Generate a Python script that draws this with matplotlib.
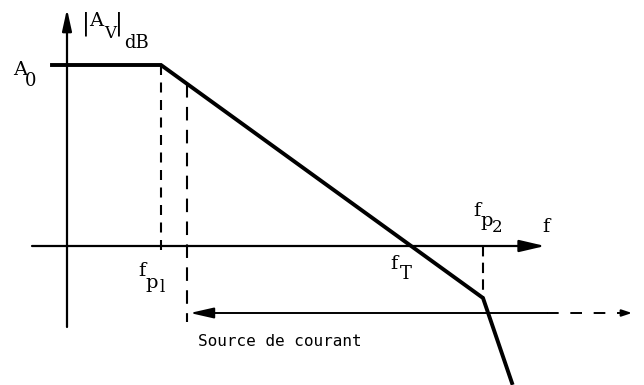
import matplotlib
matplotlib.use("Agg")
import matplotlib.pyplot as plt

# --- sketch values (x: log-frequency offset, y: gain in dB offset, origin at axis crossing) ---
A0 = 181                    # low-frequency gain
fp1 = 94                    # first pole
f_src = 120                 # limit of the current-source region
fT = 343                    # unity-gain frequency
fp2 = 416                   # second pole
gain_f = [-15, fp1, fp2, 445]
gain_db = [A0, A0, -52, -137]
src_db = -67                # level of the "Source de courant" arrow
src_end = 480               # end of the solid part of the arrow
src_dash_end = 565          # end of the dashed extension

serif = "DejaVu Serif"

fig = plt.figure(figsize=(6.44, 3.85), dpi=100)
ax = fig.add_axes([0, 0, 1, 1])
ax.set_xlim(-67, 577)
ax.set_ylim(-139, 246)
ax.axis("off")

# axes with arrow heads
ax.annotate("", xy=(0, 237), xytext=(0, -81),
            arrowprops=dict(arrowstyle="-|>,head_length=1.0,head_width=0.22",
                            lw=1.6, color="k", mutation_scale=13, shrinkA=0, shrinkB=0))
ax.annotate("", xy=(478, 0), xytext=(-35, 0),
            arrowprops=dict(arrowstyle="-|>,head_length=1.2,head_width=0.28",
                            lw=1.6, color="k", mutation_scale=13, shrinkA=0, shrinkB=0))

# asymptotic gain curve
ax.plot(gain_f, gain_db, color="k", lw=2.8, solid_joinstyle="miter")

# dashed construction lines
ax.plot([fp1, fp1], [A0, -6], color="k", lw=1.5, dashes=(4.8, 3.6))
slope = (gain_db[2] - gain_db[1]) / (fp2 - fp1)
ax.plot([f_src, f_src], [A0 + slope * (f_src - fp1), src_db - 9], color="k", lw=1.5,
        dashes=(6.5, 4.5))
ax.plot([fp2, fp2], [0, gain_db[2]], color="k", lw=1.5, dashes=(5, 3))

# current-source arrow
ax.annotate("", xy=(f_src + 3, src_db), xytext=(src_end, src_db),
            arrowprops=dict(arrowstyle="-|>,head_length=1.1,head_width=0.25",
                            lw=1.4, color="k", mutation_scale=13, shrinkA=0, shrinkB=0))
ax.plot([src_end, src_dash_end - 8], [src_db, src_db], color="k", lw=1.4, dashes=(6, 6))
ax.annotate("", xy=(src_dash_end, src_db), xytext=(src_dash_end - 8, src_db),
            arrowprops=dict(arrowstyle="-|>,head_length=0.6,head_width=0.2",
                            lw=1.4, color="k", mutation_scale=10, shrinkA=0, shrinkB=0))

# labels (typewriter style)
def lab(x, y, s, size=14):
    ax.text(x - 67, 246 - y, s, family=serif, fontsize=size, ha="center", va="center",
            color="k")

lab(86, 24, "|", 17)
lab(96, 21, "A")
lab(110, 34, "V", 12)
lab(119, 24, "|", 17)
lab(137, 43, "dB", 13)

lab(20, 70, "A")
lab(31, 81, "0", 13)

lab(142, 271, "f")
lab(152, 283, "p")
lab(162, 288, "l", 12)

lab(394, 264, "f")
lab(406, 274, "T", 13)

lab(477, 211, "f")
lab(487, 221, "p")
lab(497, 228, "2", 12)

lab(546, 227, "f")

ax.text(198 - 67, 246 - 342, "Source de courant", family="DejaVu Sans Mono",
        fontsize=11.5, ha="left", va="center", color="k")

fig.savefig("out.png", dpi=100)
